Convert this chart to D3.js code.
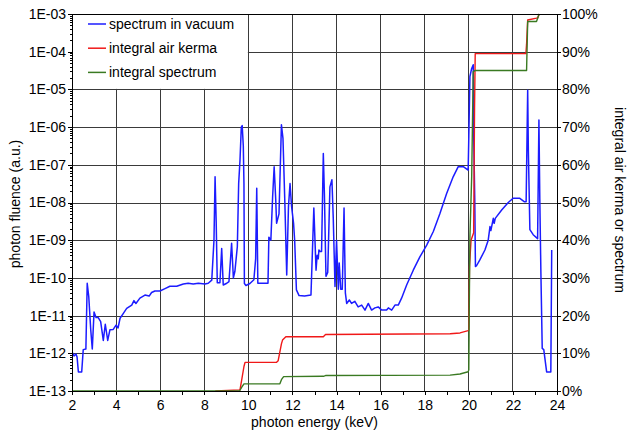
<!DOCTYPE html>
<html>
<head>
<meta charset="utf-8">
<script src="https://cdn.jsdelivr.net/npm/d3@7"></script>
<style>
body { margin: 0; background: #fff; }
svg { font-family: "Liberation Sans", Arial, sans-serif; font-size: 14px; }
.grid line { stroke: #3a3a3a; stroke-width: 1; shape-rendering: crispEdges; }
.axis path, .axis line { stroke: #000; shape-rendering: crispEdges; }
.axis text { font-size: 14px; fill: #000; }
.curve { fill: none; stroke-linejoin: round; }
</style>
</head>
<body>
<svg width="629" height="432"></svg>
<script>
// spectrum in vacuum: [photon energy keV, photon fluence a.u.]
const spectrum = [
  [2.00, 1.1e-12], [2.09, 8.5e-13], [2.18, 9.5e-13], [2.23, 8e-13], [2.29, 3.2e-13],
  [2.44, 3.2e-13], [2.51, 1.25e-12], [2.63, 1.3e-12], [2.69, 7.2e-11], [2.76, 3.2e-11],
  [2.85, 4.2e-12], [2.92, 1.3e-12], [3.00, 1.25e-11], [3.09, 8.9e-12], [3.19, 8.9e-12],
  [3.30, 6.9e-12], [3.42, 2.2e-12], [3.51, 5.9e-12], [3.62, 2.2e-12], [3.72, 4.2e-12],
  [3.87, 4.3e-12], [4.00, 5.6e-12], [4.09, 4.7e-12], [4.18, 8.5e-12], [4.33, 1.15e-11],
  [4.48, 1.55e-11], [4.71, 1.9e-11], [4.81, 2.5e-11], [4.90, 2.1e-11], [5.08, 2.9e-11],
  [5.31, 3.5e-11], [5.50, 3.3e-11], [5.61, 4.1e-11], [5.76, 4.5e-11], [5.99, 4.5e-11],
  [6.22, 5.2e-11], [6.44, 6e-11], [6.75, 6e-11], [7.05, 6.9e-11], [7.27, 7.2e-11],
  [7.50, 6.9e-11], [7.73, 7.2e-11], [8.03, 6.9e-11], [8.18, 7.2e-11], [8.34, 8.7e-11],
  [8.44, 1e-9], [8.49, 4.8e-8], [8.54, 3.2e-9], [8.59, 7.4e-11], [8.71, 7.4e-11],
  [8.79, 6e-10], [8.86, 6.5e-11], [9.02, 7.2e-11], [9.12, 8e-11], [9.24, 8.3e-10],
  [9.32, 1e-10], [9.39, 1.5e-10], [9.50, 6.8e-10], [9.56, 3.2e-8], [9.62, 1.3e-7],
  [9.68, 1e-6], [9.72, 1.1e-6], [9.77, 3.2e-7], [9.80, 3.2e-8], [9.82, 7.1e-11],
  [9.89, 6.3e-11], [10.07, 7.1e-11], [10.25, 8.9e-11], [10.33, 3.2e-10], [10.38, 2.4e-8],
  [10.43, 7.2e-11], [10.89, 7.2e-11], [10.93, 1.2e-9], [11.02, 1e-9], [11.10, 1.4e-8],
  [11.17, 8.9e-8], [11.24, 1.25e-8], [11.28, 2.8e-9], [11.39, 5e-9], [11.50, 1.15e-6],
  [11.57, 5e-7], [11.66, 7.8e-9], [11.74, 1.2e-10], [11.82, 7.9e-9], [11.89, 3.2e-8],
  [11.96, 7.9e-9], [12.05, 2.8e-9], [12.10, 1e-9], [12.18, 4.8e-11], [12.30, 3.4e-11],
  [12.55, 3.3e-11], [12.84, 3.5e-11], [12.97, 7.1e-9], [13.07, 1.6e-10], [13.12, 4e-10],
  [13.17, 3.2e-10], [13.20, 5.5e-10], [13.25, 5e-10], [13.32, 5e-10], [13.40, 2e-7],
  [13.45, 1.6e-8], [13.52, 1.1e-10], [13.60, 1.4e-10], [13.70, 2.6e-8], [13.79, 4e-8],
  [13.85, 4e-9], [13.93, 5.9e-11], [14.00, 1e-9], [14.08, 5e-11], [14.12, 2.5e-10],
  [14.19, 5e-11], [14.26, 5e-11], [14.34, 7.1e-9], [14.40, 4e-11], [14.46, 2.1e-11],
  [14.58, 2.6e-11], [14.68, 2.1e-11], [14.83, 2.4e-11], [14.98, 1.7e-11], [15.14, 1.9e-11],
  [15.29, 1.4e-11], [15.44, 2.1e-11], [15.59, 1.4e-11], [15.74, 1.6e-11], [15.89, 1.7e-11],
  [16.05, 1.4e-11], [16.27, 1.4e-11], [16.35, 1.6e-11], [16.50, 1.4e-11], [16.65, 1.9e-11],
  [16.80, 1.9e-11], [16.95, 2.9e-11], [17.18, 6.5e-11], [17.48, 1.6e-10], [17.78, 3.6e-10],
  [18.09, 7.4e-10], [18.39, 1.7e-9], [18.69, 5.1e-9], [18.99, 1.7e-8], [19.29, 4.8e-8],
  [19.52, 8.9e-8], [19.75, 8.9e-8], [19.97, 7.2e-8], [20.00, 5.6e-7], [20.05, 2.2e-5],
  [20.13, 3.6e-5], [20.20, 4.5e-5], [20.22, 6.3e-7], [20.27, 1.2e-8], [20.30, 2e-10],
  [20.35, 2.1e-10], [20.50, 3e-10], [20.73, 5.5e-10], [20.88, 1e-9], [20.96, 2.3e-9],
  [21.00, 1.8e-9], [21.11, 3.8e-9], [21.15, 2.8e-9], [21.20, 3.8e-9], [21.49, 6.3e-9],
  [21.79, 1e-8], [22.01, 1.3e-8], [22.30, 1.3e-8], [22.51, 1.05e-8], [22.60, 1.05e-8],
  [22.67, 9.5e-6], [22.70, 2.5e-7], [22.77, 1.9e-9], [22.92, 1.4e-9], [23.12, 1.1e-9],
  [23.18, 1.55e-6], [23.22, 1.25e-8], [23.27, 1.3e-10], [23.33, 1.35e-12], [23.40, 1.25e-12],
  [23.53, 3.2e-13], [23.72, 3.2e-13], [23.76, 5.5e-10]
];

// integral air kerma: [keV, %]
const airKerma = [
  [8.50, 0], [9.62, 0.3], [9.70, 3], [9.80, 6.5], [9.85, 7.6], [11.28, 7.6], [11.35, 8.0],
  [11.50, 12.5], [11.55, 13.5], [11.70, 14.4], [13.40, 14.4], [13.50, 15.0], [19.15, 15.2],
  [19.60, 15.4], [19.97, 16.0], [20.00, 16.2], [20.03, 33], [20.10, 40], [20.22, 42],
  [20.26, 75], [20.29, 89.5], [22.59, 89.5], [22.62, 92], [22.67, 98.4], [23.07, 98.9],
  [23.13, 99], [23.19, 100]
];

// integral spectrum: [keV, %]
const integral = [
  [2.00, 0], [9.60, 0], [9.70, 1.0], [9.80, 1.9], [11.43, 1.9], [11.50, 3.0], [11.60, 3.8],
  [13.40, 3.9], [13.50, 4.1], [19.15, 4.2], [19.60, 4.5], [19.97, 5.1], [20.00, 5.6],
  [20.02, 21.5], [20.05, 41], [20.13, 56.8], [20.20, 84.7], [20.28, 85], [22.62, 85],
  [22.67, 98], [23.07, 98], [23.19, 100]
];

const xTicks = d3.range(2, 25, 2);
const decades = [1e-13, 1e-12, 1e-11, 1e-10, 1e-9, 1e-8, 1e-7, 1e-6, 1e-5, 1e-4, 1e-3];
const decadeLabels = ["1E-13", "1E-12", "1E-11", "1E-10", "1E-09", "1E-08", "1E-07", "1E-06", "1E-05", "1E-04", "1E-03"];
const pctTicks = [0, 10, 20, 30, 40, 50, 60, 70, 80, 90, 100];
const legendNames = ["spectrum in vacuum", "integral air kerma", "integral spectrum"];
const colors = ["#1c1cff", "#f01818", "#3a7a22"];

const svg = d3.select("svg");
const L = 72, R = 557, T = 14, B = 391;

const x = d3.scaleLinear().domain([2, 24]).range([L, R]);
const y = d3.scaleLog().domain([1e-13, 1e-3]).range([B, T]);
const yR = d3.scaleLinear().domain([0, 100]).range([B, T]);

// grid
const grid = svg.append("g").attr("class", "grid");
grid.selectAll(".gv")
    .data(xTicks.filter(d => d > 2 && d < 24))
    .enter().append("line")
    .attr("x1", d => x(d)).attr("x2", d => x(d))
    .attr("y1", T).attr("y2", B);
grid.selectAll(".gh")
    .data(decades.slice(1))
    .enter().append("line")
    .attr("x1", L).attr("x2", R)
    .attr("y1", d => Math.round(y(d)) + 0.5).attr("y2", d => Math.round(y(d)) + 0.5);

// legend box hides the grid behind it
svg.append("rect")
    .attr("x", L + 1).attr("y", T - 1)
    .attr("width", x(10) - L - 1.5).attr("height", y(1e-5) - T + 0.5)
    .attr("fill", "#fff");

const leg = svg.append("g");
legendNames.forEach((name, i) => {
    const ly = 24 + i * 24.2;
    leg.append("line")
        .attr("x1", 88).attr("x2", 106).attr("y1", ly).attr("y2", ly)
        .attr("stroke", colors[i]).attr("stroke-width", 1.5);
    leg.append("text")
        .attr("x", 109).attr("y", ly).attr("dy", "0.35em")
        .text(name);
});

// curves
svg.append("clipPath").attr("id", "clip")
    .append("rect").attr("x", L).attr("y", T - 1).attr("width", R - L).attr("height", B - T + 2);

const lineLog = d3.line().x(d => x(d[0])).y(d => y(d[1]));
const linePct = d3.line().x(d => x(d[0])).y(d => yR(d[1]));

const curves = svg.append("g").attr("clip-path", "url(#clip)");
curves.append("path").attr("class", "curve")
    .attr("d", lineLog(spectrum)).attr("stroke", colors[0]).attr("stroke-width", 1.5);
curves.append("path").attr("class", "curve")
    .attr("d", linePct(airKerma)).attr("stroke", colors[1]).attr("stroke-width", 1.4);
curves.append("path").attr("class", "curve")
    .attr("d", linePct(integral)).attr("stroke", colors[2]).attr("stroke-width", 1.4);

// axes
svg.append("g").attr("class", "axis")
    .attr("transform", `translate(0,${B})`)
    .call(d3.axisBottom(x).tickValues(d3.range(2, 25, 1)).tickSize(4).tickSizeOuter(0).tickPadding(5)
        .tickFormat(d => d % 2 === 0 ? d : ""));

const minors = [];
decades.slice(0, -1).forEach(d => { for (let k = 2; k < 10; k++) minors.push(d * k); });
svg.append("g").attr("class", "axis")
    .attr("transform", `translate(${L},0)`)
    .call(d3.axisLeft(y).tickValues(minors).tickSize(2).tickSizeOuter(0).tickFormat(""));
svg.append("g").attr("class", "axis")
    .attr("transform", `translate(${L},0)`)
    .call(d3.axisLeft(y).tickValues(decades).tickSize(4).tickSizeOuter(0).tickPadding(2)
        .tickFormat((d, i) => decadeLabels[i]));

svg.append("g").attr("class", "axis")
    .attr("transform", `translate(${R},0)`)
    .call(d3.axisRight(yR).tickValues(pctTicks).tickSize(4).tickSizeOuter(0).tickPadding(1)
        .tickFormat(d => d + "%"));

// top border
svg.append("line")
    .attr("x1", L).attr("x2", R).attr("y1", T + 0.5).attr("y2", T + 0.5)
    .attr("stroke", "#000");

// axis titles
svg.append("text")
    .attr("x", (L + R) / 2).attr("y", 427)
    .attr("text-anchor", "middle")
    .text("photon energy (keV)");
svg.append("text")
    .attr("transform", "translate(20,204) rotate(-90)")
    .attr("text-anchor", "middle")
    .text("photon fluence (a.u.)");
svg.append("text")
    .attr("transform", "translate(615,200) rotate(90)")
    .attr("text-anchor", "middle")
    .text("integral air kerma or spectrum");
</script>
</body>
</html>
